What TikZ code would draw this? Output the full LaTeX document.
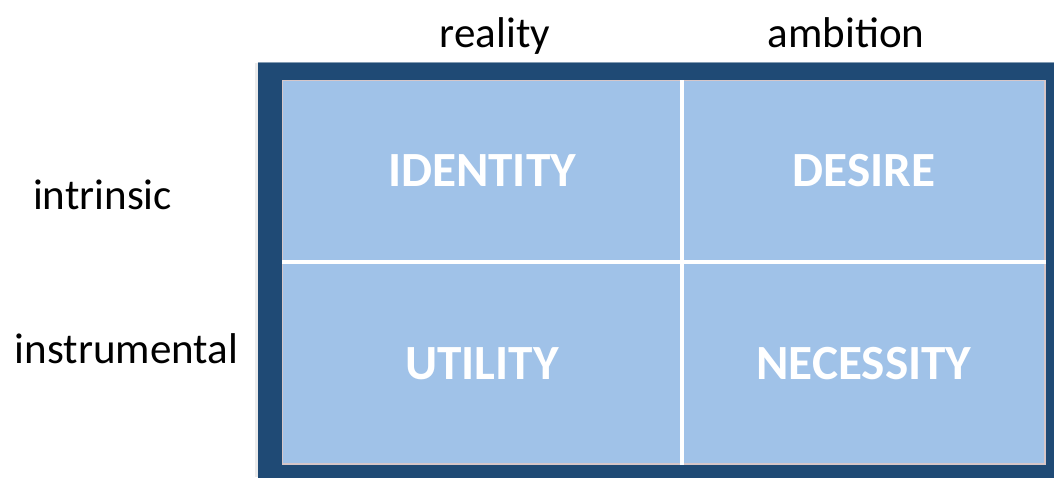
\documentclass[tikz,border=0pt]{standalone}
\usepackage{fontspec}
\setmainfont{Carlito}
\usetikzlibrary{positioning}

\definecolor{frameblue}{HTML}{1F4A75}
\definecolor{cellblue}{HTML}{A0C2E8}
\definecolor{celledge}{HTML}{D6C6C8}

\tikzset{
	cell/.style={fill=cellblue, draw=celledge, line width=0.8pt, inner sep=0pt,
		text=white, font=\fontsize{28}{33}\selectfont\bfseries},
	axis/.style={anchor=base, inner sep=0pt, font=\fontsize{24.5}{29}\selectfont},
	gap/.style={white, line width=2.3pt}
}

\begin{document}
\begin{tikzpicture}[x=0.02cm, y=-0.02cm]
		
		\useasboundingbox (0,0) rectangle (1054,477);
		
		% dark frame, running off the right and bottom edges
		\fill[black!8] (255,63) rectangle (258,477);
		\node[fill=frameblue, inner sep=0pt, anchor=north west,
			minimum width=830*0.02cm, minimum height=440*0.02cm]
			(frame) at (257.5,62) {};
		\draw[frameblue!55!white, line width=0.5pt] (frame.north west) -- (frame.north east);
		
		% the four quadrants
		\node[cell, anchor=north west, minimum width=398.5*0.02cm, minimum height=180.5*0.02cm]
			(identity) at (282,80) {IDENTITY};
		\node[cell, right=0pt of identity, minimum width=362.5*0.02cm, minimum height=180.5*0.02cm]
			(desire) {DESIRE};
		\node[cell, below=0pt of identity, minimum width=398.5*0.02cm, minimum height=201.5*0.02cm]
			(utility) {UTILITY};
		\node[cell, below=0pt of desire, minimum width=362.5*0.02cm, minimum height=201.5*0.02cm]
			(necessity) {NECESSITY};
		
		% white separators
		\draw[gap] (identity.north east) -- (utility.south east);
		\draw[gap] (identity.south west) -- (desire.south east);
		
		% column and row headings
		\node[axis] (reality) at (495,47) {reality};
		\node[axis] (ambition) at (846,47) {ambition};
		\node[axis] (intrinsic) at (102.5,209) {intrinsic};
		\node[axis] (instrumental) at (126.5,363) {instrumental};
		
		\end{tikzpicture}
\end{document}
